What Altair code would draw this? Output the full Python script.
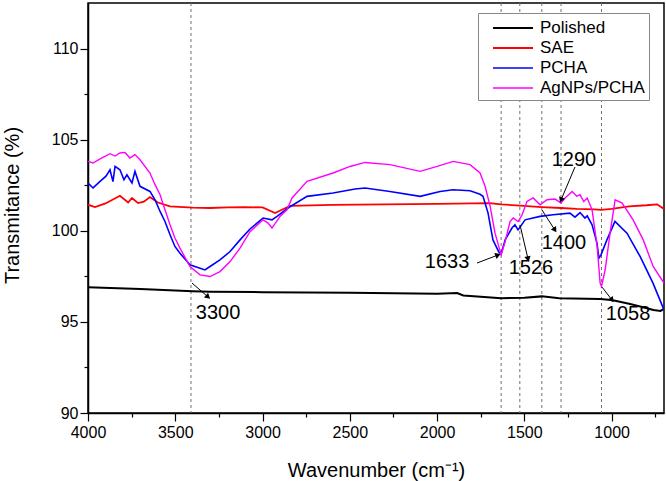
import altair as alt
import pandas as pd

FONT = "Liberation Sans"

series_names = ["Polished", "SAE", "PCHA", "AgNPs/PCHA"]
series_colors = ["#000000", "#ff0000", "#0000ff", "#ff00ff"]
series_widths = [2.0, 1.4, 1.9, 1.6]

pol_wn = [4000, 3700, 3400, 3300, 3000, 2500, 2000, 1885, 1850, 1750, 1633, 1500, 1400, 1300, 1066, 1000, 900, 837, 760, 720, 700]
pol_t = [96.9, 96.8, 96.68, 96.66, 96.63, 96.6, 96.55, 96.58, 96.45, 96.38, 96.3, 96.33, 96.4, 96.3, 96.25, 96.2, 96.0, 95.84, 95.65, 95.6, 95.72]

sae_wn = [4000, 3960, 3900, 3817, 3770, 3748, 3713, 3680, 3645, 3600, 3530, 3400, 3300, 3200, 3100, 3000, 2928, 2842, 2600, 2300, 2000, 1800, 1700, 1633, 1526, 1400, 1290, 1200, 1100, 1060, 1000, 900, 800, 740, 700]
sae_t = [101.43, 101.3, 101.5, 101.92, 101.55, 101.8, 101.52, 101.6, 101.85, 101.55, 101.34, 101.27, 101.25, 101.28, 101.3, 101.28, 100.97, 101.37, 101.42, 101.45, 101.48, 101.5, 101.52, 101.45, 101.38, 101.3, 101.25, 101.2, 101.18, 101.15, 101.2, 101.34, 101.4, 101.45, 101.2]

pcha_wn = [4000, 3971, 3931, 3897, 3874, 3857, 3845, 3817, 3794, 3777, 3748, 3731, 3702, 3645, 3616, 3587, 3559, 3530, 3502, 3473, 3416, 3358, 3330, 3301, 3244, 3186, 3129, 3072, 2997, 2946, 2917, 2854, 2745, 2596, 2470, 2413, 2270, 2097, 1983, 1908, 1811, 1754, 1737, 1708, 1680, 1645, 1633, 1610, 1571, 1554, 1536, 1496, 1410, 1336, 1239, 1210, 1181, 1153, 1140, 1112, 1084, 1073, 1061, 1027, 981, 912, 837, 763, 700]
pcha_t = [102.62, 102.35, 102.71, 103.0, 103.35, 102.7, 103.53, 103.35, 102.8, 103.07, 102.62, 103.26, 102.44, 102.16, 101.7, 101.06, 100.51, 99.78, 99.14, 98.77, 98.13, 97.95, 97.85, 98.04, 98.4, 98.86, 99.5, 100.1, 100.7, 100.6, 100.79, 101.25, 101.89, 102.07, 102.29, 102.35, 102.16, 101.89, 102.16, 102.25, 102.2, 102.0, 101.89, 100.97, 99.5, 98.81, 98.74, 99.5, 100.15, 100.33, 100.05, 100.6, 100.79, 100.88, 100.97, 100.75, 101.0, 100.7, 100.82, 100.33, 99.32, 98.5, 98.68, 99.5, 100.51, 99.87, 98.59, 97.13, 95.66]

ag_wn = [4000, 3971, 3931, 3874, 3845, 3817, 3788, 3760, 3731, 3702, 3645, 3616, 3587, 3559, 3530, 3502, 3473, 3416, 3358, 3301, 3244, 3186, 3129, 3072, 2997, 2968, 2946, 2900, 2860, 2831, 2745, 2596, 2499, 2413, 2270, 2097, 2000, 1908, 1811, 1754, 1725, 1696, 1668, 1633, 1610, 1582, 1564, 1535, 1513, 1485, 1450, 1410, 1370, 1324, 1290, 1267, 1226, 1200, 1181, 1160, 1140, 1112, 1083, 1066, 1058, 1037, 1009, 980, 940, 877, 819, 762, 700]
ag_t = [103.81, 103.72, 103.94, 104.23, 104.1, 104.27, 104.3, 103.99, 104.18, 103.9, 103.17, 102.53, 101.98, 101.15, 100.33, 99.6, 99.05, 98.04, 97.58, 97.49, 97.76, 98.31, 99.05, 99.95, 100.6, 100.42, 100.15, 100.79, 101.15, 101.8, 102.71, 103.17, 103.53, 103.75, 103.63, 103.26, 103.53, 103.81, 103.63, 103.17, 102.44, 101.34, 99.87, 98.68, 99.41, 100.51, 100.7, 100.51, 100.88, 101.61, 101.8, 101.43, 101.7, 101.74, 101.52, 101.8, 102.16, 101.9, 101.98, 101.6, 101.8, 101.15, 99.14, 97.13, 96.95, 97.86, 99.87, 101.7, 101.52, 100.6, 99.5, 98.04, 97.13]

# vertical reference lines (wavenumber)
ref_wn = [3410, 1633, 1526, 1400, 1290, 1058]

# annotations: label, text position, arrow start, arrow head
ann_label = ["3300", "1633", "1526", "1400", "1290", "1058"]
ann_text_wn = [3255, 1943, 1462, 1273, 1216, 906]
ann_text_t = [95.49, 98.29, 97.96, 99.33, 103.88, 95.43]
arr_start_wn = [3404, 1771, 1525, 1399, 1210, 1055]
arr_start_t = [97.13, 98.23, 100.32, 101.14, 103.5, 96.91]
arr_head_wn = [3312, 1651, 1479, 1325, 1290, 998]
arr_head_t = [96.37, 98.67, 98.45, 100.04, 101.69, 96.2]
arr_angle = [131, 69, 167, 147, 203, 142]

x_ticks = [4000, 3750, 3500, 3250, 3000, 2750, 2500, 2250, 2000, 1750, 1500, 1250, 1000, 750]
y_ticks = [90, 92.5, 95, 97.5, 100, 102.5, 105, 107.5, 110]

frames = []
for name, wn, t in [("Polished", pol_wn, pol_t), ("SAE", sae_wn, sae_t),
                    ("PCHA", pcha_wn, pcha_t), ("AgNPs/PCHA", ag_wn, ag_t)]:
    frames.append(pd.DataFrame({"wn": wn, "t": t, "series": name}))
spec_df = pd.concat(frames, ignore_index=True)
ref_df = pd.DataFrame({"wn": ref_wn})
ann_df = pd.DataFrame({
    "label": ann_label, "tx": ann_text_wn, "ty": ann_text_t,
    "x1": arr_start_wn, "y1": arr_start_t, "x2": arr_head_wn, "y2": arr_head_t,
    "ang": arr_angle,
})

xscale = alt.Scale(domain=[700, 4000], reverse=True, nice=False, zero=False)
yscale = alt.Scale(domain=[90, 112.5], nice=False, zero=False)

xaxis = alt.Axis(
    values=x_ticks, title="Wavenumber (cm⁻¹)",
    labelExpr="datum.value % 500 === 0 ? datum.label : ''",
    tickSize={"condition": {"test": "datum.value % 500 === 0", "value": 8}, "value": 4},
    labelPadding=3, titlePadding=20, format="d", labelFlush=False,
)
yaxis = alt.Axis(
    values=y_ticks, title="Transmitance (%)",
    labelExpr="datum.value % 5 === 0 ? datum.label : ''",
    tickSize={"condition": {"test": "datum.value % 5 === 0", "value": 8}, "value": 4},
    labelPadding=2, format="d",
    titleAngle=270, titleBaseline="top", titleAlign="center", titleX=-86, titleY=202,
)

def X(field):
    return alt.X(field, type="quantitative", scale=xscale, axis=xaxis)

def Y(field):
    return alt.Y(field, type="quantitative", scale=yscale, axis=yaxis)

refs = alt.Chart(ref_df).mark_rule(color="#707070", strokeDash=[3, 3], strokeWidth=1).encode(
    x=X("wn")
)

lines = alt.Chart(spec_df).mark_line(clip=True).encode(
    x=X("wn"), y=Y("t"),
    color=alt.Color("series:N", scale=alt.Scale(domain=series_names, range=series_colors),
                    sort=series_names,
                    legend=alt.Legend(title=None, orient="none", legendX=390, legendY=10)),
    strokeWidth=alt.StrokeWidth("series:N", scale=alt.Scale(domain=series_names, range=series_widths),
                                legend=None),
    order=alt.Order("wn:Q"),
)

arrows = alt.Chart(ann_df).mark_rule(color="black", strokeWidth=1).encode(
    x=X("x1"), y=Y("y1"), x2="x2", y2="y2"
)
heads = alt.Chart(ann_df).mark_point(shape="triangle-up", filled=True, color="black", size=40, opacity=1).encode(
    x=X("x2"), y=Y("y2"), angle=alt.Angle("ang:Q", scale=None)
)
texts = alt.Chart(ann_df).mark_text(font=FONT, fontSize=20, color="black", align="center", baseline="middle").encode(
    x=X("tx"), y=Y("ty"), text="label:N"
)

chart = alt.layer(refs, lines, arrows, heads, texts).properties(
    width=576, height=410,
    autosize=alt.AutoSizeParams(type="none"),
    padding={"left": 88, "top": 3, "right": 2, "bottom": 68},
).configure_view(
    stroke="black", strokeWidth=1.5
).configure_axis(
    labelFont=FONT, titleFont=FONT, labelFontSize=16, titleFontSize=20,
    titleFontWeight="normal", labelColor="black", titleColor="black",
    domainColor="black", domainWidth=1.5, tickColor="black", tickWidth=1.2,
    grid=False,
).configure_legend(
    labelFont=FONT, labelFontSize=17, labelColor="black",
    symbolType="M-2,0H2", symbolSize=400, symbolStrokeWidth=2,
    fillColor="white", strokeColor="#888888", padding=4, rowPadding=1,
    symbolOffset=20, labelOffset=16, cornerRadius=0,
)

chart.save("out.html", embed_options={"renderer": "svg", "actions": False})
